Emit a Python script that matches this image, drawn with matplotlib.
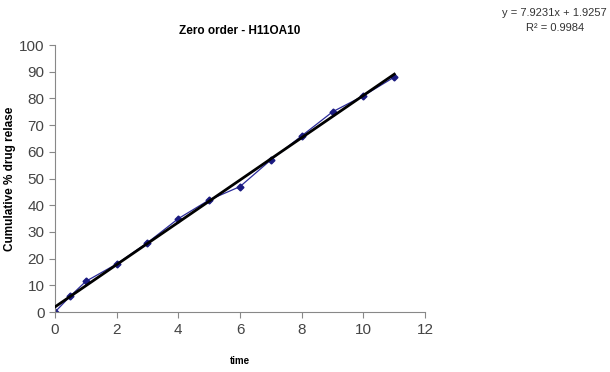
import matplotlib.pyplot as plt

plt.rcParams["font.family"] = ["Liberation Sans", "DejaVu Sans"]

# data
time = [0, 0.5, 1, 2, 3, 4, 5, 6, 7, 8, 9, 10, 11]
release = [0, 6, 11.5, 18, 26, 35, 42, 47, 57, 66, 75, 81, 88]
slope = 7.9231
intercept = 1.9257
r2 = 0.9984

fig = plt.figure(figsize=(6.1, 3.72), dpi=100)
ax = fig.add_axes([0.090, 0.161, 0.607, 0.718])

ax.plot(time, release, color="#2b2b9a", lw=0.9, marker="D", markersize=3.5,
        markerfacecolor="#1a1a80", markeredgecolor="#1a1a80", zorder=2)
fit_x = [time[0], time[-1]]
fit_y = [slope * t + intercept for t in fit_x]
ax.plot(fit_x, fit_y, color="black", lw=2, zorder=3)

ax.set_xlim(0, 12)
ax.set_ylim(0, 100)
ax.set_xticks(range(0, 13, 2))
ax.set_yticks(range(0, 101, 10))
for s in ["top", "right"]:
    ax.spines[s].set_visible(False)
for s in ["left", "bottom"]:
    ax.spines[s].set_color("#888888")
ax.tick_params(colors="#888888", labelcolor="#444444", labelsize=11, length=4)

ax.set_title("Zero order - H11OA10", fontsize=8.5, fontweight="bold", pad=8)
ax.set_xlabel("time", fontsize=7, fontweight="bold", labelpad=14)
ax.set_ylabel("Cumulative % drug relase", fontsize=8.5, fontweight="bold", labelpad=2)

fig.text(0.995, 0.965, "y = 7.9231x + 1.9257", ha="right", va="center", fontsize=8, color="#333333")
fig.text(0.91, 0.925, "R² = " + str(r2), ha="center", va="center", fontsize=8, color="#333333")

fig.savefig("out.png", dpi=100, facecolor="white")
